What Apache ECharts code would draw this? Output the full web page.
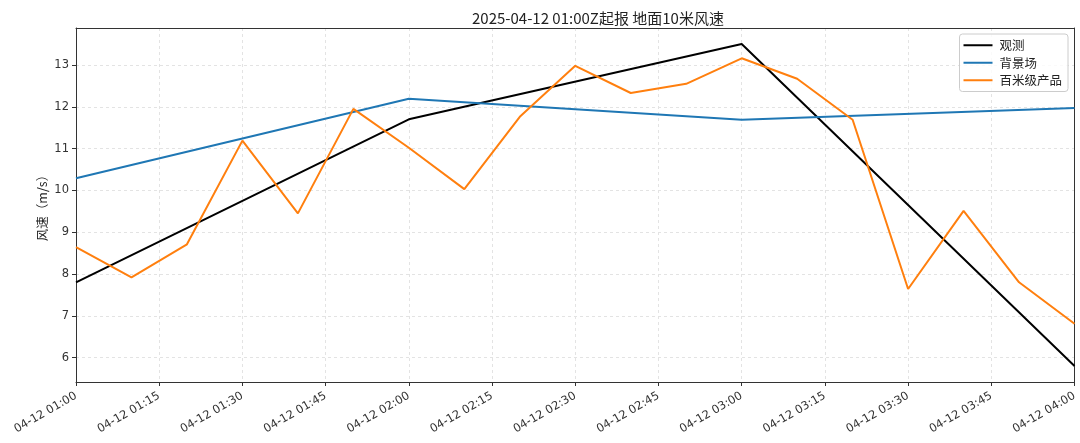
<!DOCTYPE html>
<html><head><meta charset="utf-8">
<script src="https://cdn.jsdelivr.net/npm/echarts@6/dist/echarts.min.js"></script>
<style>html,body{margin:0;padding:0;background:#fff}#c{width:1080px;height:443px}</style>
</head><body><div id="c"></div>
<script>
var tickLabels = ['04-12 01:00','04-12 01:15','04-12 01:30','04-12 01:45','04-12 02:00','04-12 02:15','04-12 02:30','04-12 02:45','04-12 03:00','04-12 03:15','04-12 03:30','04-12 03:45','04-12 04:00'];
var yTicks = [6,7,8,9,10,11,12,13];
var obsTimes = ['01:00','02:00','03:00','04:00'];
var obsValues = [7.8, 11.7, 13.5, 5.8];
var bgTimes = ['01:00','02:00','03:00','04:00'];
var bgValues = [10.29, 12.19, 11.69, 11.97];
var hmTimes = ['01:00','01:10','01:20','01:30','01:40','01:50','02:00','02:10','02:20','02:30','02:40','02:50','03:00','03:10','03:20','03:30','03:40','03:50','04:00'];
var hmValues = [8.64, 7.92, 8.71, 11.19, 9.45, 11.95, 11.02, 10.03, 11.76, 12.98, 12.33, 12.55, 13.16, 12.67, 11.69, 7.64, 9.51, 7.80, 6.81];

function toMin(t){var p=t.split(':');return (+p[0]-1)*60+(+p[1]);}
function pairs(ts,vs){return ts.map(function(t,i){return [toMin(t),vs[i]];});}
var font = "'DejaVu Sans','Noto Sans CJK SC',sans-serif";
var cjk = "'Noto Sans CJK SC','DejaVu Sans',sans-serif";
var YMIN = 5.415, YMAX = 13.885;
var chart = echarts.init(document.getElementById('c'));
chart.setOption({
  animation:false,
  title:{text:'2025-04-12 01:00Z起报 地面10米风速',left:467,top:6,
    textStyle:{fontSize:15,fontWeight:'normal',color:'#222',fontFamily:cjk}},
  grid:{left:76,right:5,top:28,bottom:61},
  legend:{right:12,top:34,orient:'vertical',itemWidth:29,itemHeight:2,itemGap:5,icon:'rect',
    borderColor:'#ccc',borderWidth:1,borderRadius:3,padding:[5,6,5,4],backgroundColor:'rgba(255,255,255,0.8)',
    textStyle:{fontSize:12.5,color:'#222',fontFamily:cjk,padding:[0,0,0,2]},
    data:['观测','背景场','百米级产品']},
  xAxis:[{type:'value',min:0,max:180,interval:15,
    axisLine:{show:true,lineStyle:{color:'#333'}},
    axisTick:{show:true,length:4,lineStyle:{color:'#333'}},
    axisLabel:{rotate:30,fontSize:11.5,color:'#333',fontFamily:font,margin:13,
      formatter:function(v){return tickLabels[Math.round(v/15)]||'';}},
    splitLine:{show:true,lineStyle:{color:'#e3e3e3',type:[3,3]}}},
    {type:'value',position:'top',min:0,max:180,
     axisLine:{show:true,onZero:false,lineStyle:{color:'#333'}},axisTick:{show:false},axisLabel:{show:false},splitLine:{show:false}}],
  yAxis:[{type:'value',min:YMIN,max:YMAX,
    name:'风速（m/s）',nameLocation:'middle',nameGap:27,nameRotate:90,nameMoveOverlap:false,
    nameTextStyle:{fontSize:12.5,color:'#222',fontFamily:cjk},
    axisLine:{show:true,lineStyle:{color:'#333'}},
    axisTick:{show:true,length:4,customValues:yTicks,lineStyle:{color:'#333'}},
    axisLabel:{customValues:yTicks,fontSize:11.5,color:'#333',fontFamily:font,margin:7},
    splitLine:{show:true,lineStyle:{color:'#e3e3e3',type:[3,3]}}},
    {type:'value',position:'right',min:YMIN,max:YMAX,
     axisLine:{show:true,onZero:false,lineStyle:{color:'#333'}},axisTick:{show:false},axisLabel:{show:false},splitLine:{show:false}}],
  series:[
    {name:'观测',type:'line',data:pairs(obsTimes,obsValues),showSymbol:false,lineStyle:{color:'#000',width:2},itemStyle:{color:'#000'},z:3},
    {name:'背景场',type:'line',data:pairs(bgTimes,bgValues),showSymbol:false,lineStyle:{color:'#1f77b4',width:2},itemStyle:{color:'#1f77b4'},z:3},
    {name:'百米级产品',type:'line',data:pairs(hmTimes,hmValues),showSymbol:false,lineStyle:{color:'#ff7f0e',width:2},itemStyle:{color:'#ff7f0e'},z:3}
  ]
});
</script></body></html>
